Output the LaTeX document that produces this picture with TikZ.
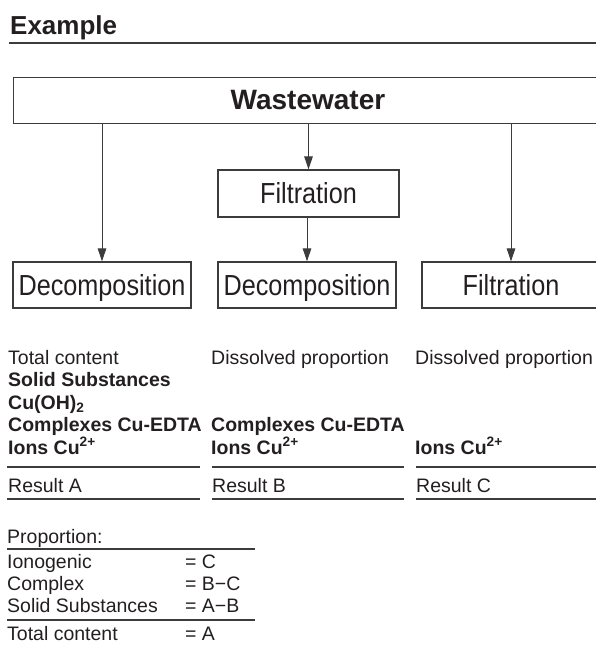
\documentclass[tikz,border=0pt]{standalone}
\usepackage{fontspec}
\setmainfont{Liberation Sans}
\newfontfamily\narrowfont[FakeStretch=0.87]{Liberation Sans}
\usetikzlibrary{positioning,arrows.meta}
\definecolor{ink}{HTML}{231F20}
\definecolor{rulegray}{HTML}{3C3C3C}

\begin{document}
\begin{tikzpicture}[x=1pt, y=-1pt, >={Triangle[length=13pt,width=8.5pt]},
  box/.style={draw=rulegray, line width=1.2pt, minimum height=46pt, inner sep=0pt,
    text height=20.8pt, text depth=0pt, text=ink, font=\narrowfont\fontsize{29}{32}\selectfont},
  txt/.style={anchor=base west, inner sep=0pt, text=ink, font=\fontsize{19.5}{22}\selectfont},
  txtb/.style={txt, font=\bfseries\fontsize{19.5}{22}\selectfont},
  thinrule/.style={draw=rulegray, line width=1.2pt},
  thickrule/.style={draw=rulegray, line width=2.8pt}]
  \useasboundingbox (0,0) rectangle (596,650);
  \clip (0,0) rectangle (596,650);

  % heading
  \node[anchor=base west, inner sep=0pt, text=ink, font=\bfseries\fontsize{26}{30}\selectfont] (title) at (10,35) {Example};
  \draw[thinrule] (9,43) -- (600,43);

  % boxes
  \node[box, minimum width=600pt, anchor=north west] (waste) at (13,77) {};
  \node[text=ink, text height=20pt, text depth=0pt, font=\bfseries\fontsize{28}{32}\selectfont] (wastelabel) at (308,100) {Wastewater};
  \node[box, minimum width=181pt, minimum height=47pt] (filt) at (308.5,193.5) {Filtration};
  \node[box, minimum width=178pt] (dec1) at (102,285) {Decomposition};
  \node[box, minimum width=178pt] (dec2) at (307,285) {Decomposition};
  \node[box, minimum width=178pt] (filt2) at (511,285) {Filtration};

  \draw[->, thinrule, line width=1pt] (waste.south -| dec1.north) -- (dec1.north);
  \draw[->, thinrule, line width=1pt] (waste.south -| filt.north) -- (filt.north);
  \draw[->, thinrule, line width=1pt] (filt.south -| dec2.north) -- (dec2.north);
  \draw[->, thinrule, line width=1pt] (waste.south -| filt2.north) -- (filt2.north);

  % columns
  \node[txt] (a1) at (8,364) {Total content};
  \node[txtb] (a2) at (8,386.5) {Solid Substances};
  \node[txtb] (a3) at (8,409) {Cu(OH)\textsubscript{2}};
  \node[txtb] (a4) at (8,431.5) {Complexes Cu-EDTA};
  \node[txtb] (a5) at (8,454) {Ions Cu\textsuperscript{2+}};
  \node[txt] (b1) at (211,364) {Dissolved proportion};
  \node[txtb] (b4) at (211,431.5) {Complexes Cu-EDTA};
  \node[txtb] (b5) at (211,454) {Ions Cu\textsuperscript{2+}};
  \node[txt] (c1) at (415,364) {Dissolved proportion};
  \node[txtb] (c5) at (415,454) {Ions Cu\textsuperscript{2+}};

  \draw[thinrule] (7,467) -- (200,467);
  \draw[thinrule] (212,467) -- (404,467);
  \draw[thinrule] (416,467) -- (600,467);
  \node[txt] (resa) at (8,492) {Result A};
  \node[txt] (resb) at (212,492) {Result B};
  \node[txt] (resc) at (416,492) {Result C};
  \draw[thickrule] (7,499) -- (200,499);
  \draw[thickrule] (212,499) -- (404,499);
  \draw[thickrule] (416,499) -- (600,499);

  % proportion table
  \node[txt] (prop) at (7,543) {Proportion:};
  \draw[thinrule] (7,549) -- (255,549);
  \node[txt] (p1) at (7,568) {Ionogenic};
  \node[txt] (p2) at (7,590) {Complex};
  \node[txt] (p3) at (7,612) {Solid Substances};
  \node[txt] (q1) at (185,568) {= C};
  \node[txt] (q2) at (185,590) {= B−C};
  \node[txt] (q3) at (185,612) {= A−B};
  \draw[thinrule] (7,620) -- (255,620);
  \node[txt] (p4) at (7,640) {Total content};
  \node[txt] (q4) at (185,640) {= A};
\end{tikzpicture}
\end{document}
